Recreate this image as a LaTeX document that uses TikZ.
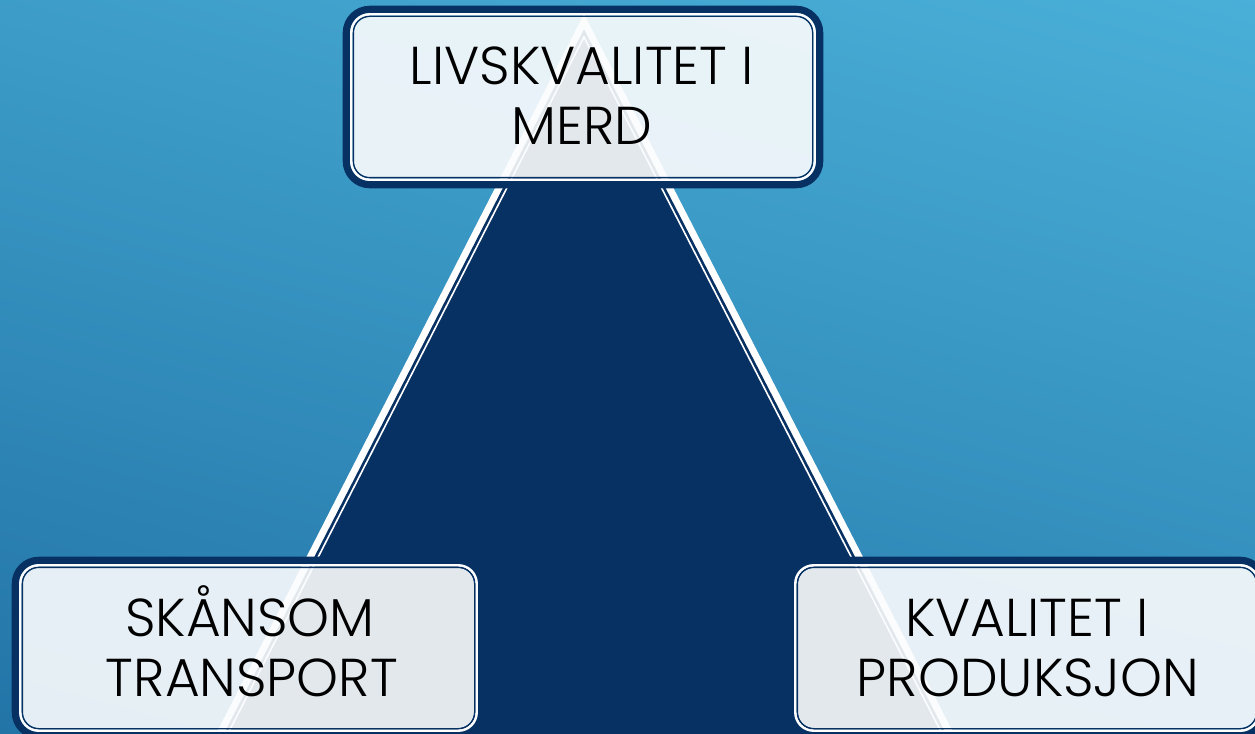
\documentclass[tikz,border=0pt]{standalone}
\usepackage{fontspec}
\setmainfont{Poppins Light}
\usetikzlibrary{calc}
\definecolor{navy}{HTML}{073163}
\definecolor{bgtop}{HTML}{4AB0D8}
\definecolor{bgbot}{HTML}{2274A7}
\definecolor{boxfill}{HTML}{FBFCFD}
\begin{document}
\begin{tikzpicture}[x=0.75pt,y=0.75pt,
  box/.style={rectangle, rounded corners=12pt, fill=boxfill, fill opacity=0.9, inner sep=0pt, minimum height=120pt},
  lbl/.style={font=\fontsize{40}{45}\selectfont, text=black, inner sep=0pt, anchor=base},
  ringout/.style={draw=navy, line width=5.475pt, rounded corners=17.5pt},
  ringwhite/.style={draw=white, line width=2pt, rounded corners=13.75pt},
  ringin/.style={draw=navy, line width=1pt, rounded corners=12.3pt},
]
\useasboundingbox (0,0) rectangle (1255,733);
\clip (0,0) rectangle (1255,733);
\shade[top color=bgtop, bottom color=bgbot, shading angle=-15] (-100,-100) rectangle (1355,833);
% triangle
\fill[white] (584,719) -- (196,-40) -- (974,-40) -- cycle;
\fill[navy] (584,703.7) -- (203.9,-40) -- (966.1,-40) -- cycle;
\draw[white, line width=1.2pt] (584,696) -- (207.8,-40) -- (962.2,-40) -- cycle;
% boxes
\node[box, minimum width=343.5pt] (top) at (583,636) {};
\node[box, minimum width=338.25pt] (left) at (248.5,85) {};
\node[box, minimum width=343.5pt] (right) at (1027,85) {};
\foreach \n in {top,left,right}{
  \draw[ringout] ($(\n.south west)+(-7.35,-7.35)$) rectangle ($(\n.north east)+(7.35,7.35)$);
  \draw[ringwhite] ($(\n.south west)+(-2.35,-2.35)$) rectangle ($(\n.north east)+(2.35,2.35)$);
  \draw[ringin] ($(\n.south west)+(-0.4,-0.4)$) rectangle ($(\n.north east)+(0.4,0.4)$);
}
% labels
\node[lbl] (t1) at (582,648) {LIVSKVALITET I};
\node[lbl] (t2) at (582,588) {MERD};
\node[lbl] (l1) at (250,97) {SKÅNSOM};
\node[lbl] (l2) at (252,37) {TRANSPORT};
\node[lbl] (r1) at (1027,97) {KVALITET I};
\node[lbl] (r2) at (1028,37) {PRODUKSJON};
\end{tikzpicture}
\end{document}
